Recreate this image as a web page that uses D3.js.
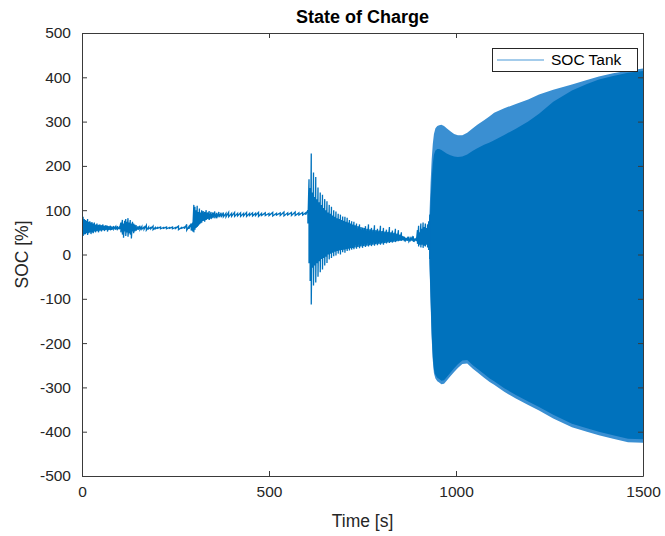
<!DOCTYPE html>
<html>
<head>
<meta charset="utf-8">
<script src="https://cdn.jsdelivr.net/npm/d3@7"></script>
<style>
  html, body { margin: 0; padding: 0; background: #fff; }
  svg { display: block; font-family: "Liberation Sans", Arial, Helvetica, sans-serif; }
</style>
</head>
<body>
<svg id="chart" width="665" height="536"></svg>
<script>
// ---------------- data ----------------
const title = "State of Charge";
const xLabel = "Time [s]";
const yLabel = "SOC [%]";
const seriesName = "SOC Tank";
const xTicks = [0, 500, 1000, 1500];
const yTicks = [-500, -400, -300, -200, -100, 0, 100, 200, 300, 400, 500];

// oscillation extremes (per cycle) for 0 - 930 s
const cycT = [0,3,6,9,12,15,18,21,24,27,30,33,36,40,44,48,52,56,60,64,68,72,76,80,85,90,95,100,
  104,108,111,114,117,120,123,126,129,132,135,138,141,145,150,155,
  160,166,172,178,184,190,196,202,210,218,226,234,242,250,258,266,274,280,286,292,
  296,299,302,305,308,311,314,317,320,324,328,332,336,340,345,350,355,360,366,372,378,385,392,
  400,408,416,424,432,440,448,456,464,472,480,490,500,510,520,530,540,550,560,570,580,590,598,
  604,607,610,613,616,619,622,625,628,631,634,637,640,643,646,649,652,655,658,661,664,667,670,673,
  676,679,682,685,688,691,694,697,700,703,706,709,712,715,718,721,724,727,730,734,738,742,746,750,
  754,758,762,766,770,774,778,782,786,790,794,798,802,806,810,814,818,822,826,830,834,838,842,846,
  850,854,858,862,866,870,874,878,882,886,890,894,897,900,903,906,909,912,915,918,921,924,927,930];
const cycHi = [100,85,80,78,76,80,74,75,72,73,70,72,68,70,67,68,66,68,65,66,65,64,65,63,64,63,64,62,
  72,78,70,76,80,74,82,72,78,70,74,70,68,66,64,65,
  63,62,66,62,61,64,61,61,62,61,62,61,62,61,64,61,62,68,63,70,
  72,112,108,100,110,96,104,95,100,98,96,100,95,98,96,95,97,94,96,94,95,93,95,
  93,95,93,94,93,95,93,94,93,95,93,94,93,95,93,94,96,94,95,96,94,95,94,
  100,170,150,228,140,185,130,175,125,151,118,140,112,135,105,125,100,120,95,112,92,108,88,100,
  85,97,82,92,80,90,78,86,76,85,74,83,72,78,70,75,68,74,66,70,64,68,62,61,
  60,64,58,68,57,60,56,66,55,58,54,65,53,60,52,56,51,62,50,54,49,58,47,55,
  45,50,42,40,38,37,40,36,38,41,36,37,55,65,50,70,58,72,62,70,60,68,75,90];
const cycLo = [40,42,45,46,48,44,48,50,46,50,48,52,50,53,50,54,52,55,53,56,52,56,55,56,57,56,57,57,
  50,45,38,52,42,50,40,48,45,36,52,48,52,54,56,56,
  57,57,55,58,58,56,58,59,58,59,58,59,58,59,56,59,58,55,58,54,
  52,50,56,60,62,65,68,70,72,76,74,78,80,78,80,82,82,82,84,84,85,85,85,
  86,86,87,86,87,86,88,87,88,86,88,88,88,87,89,88,87,89,88,88,89,89,90,
  70,-20,-60,-113,-30,-70,-25,-63,-20,-50,-15,-40,-10,-34,-8,-25,-5,-19,0,-11,2,-8,4,-4,
  6,-2,8,2,9,0,10,5,11,4,12,8,13,9,14,11,15,12,16,13,17,14,18,15,
  19,17,20,18,21,19,22,20,23,21,24,22,25,22,26,25,27,26,28,27,29,28,30,30,
  31,31,32,30,32,31,30,32,31,29,32,30,24,18,22,16,22,15,20,18,22,16,10,-10];

// dense oscillation 930 - 1500 s : outer extremes and solid core envelope
const denseT  = [929,932,935,938,941,945,950,955,961,968,975,985,995,1005,1017,1030,1045,1057,1075,1090,1102,1129,1160,1193,1222,1260,1310,1350,1382,1420,1460,1500];
const denseHi = [90,160,215,250,272,285,290,292,293,290,285,278,272,269,269,275,285,293,303,312,320,330,340,350,361,372,384,394,402,409,415,420];
const denseLo = [-20,-110,-190,-240,-268,-280,-286,-289,-293,-292,-285,-275,-265,-256,-247,-246,-258,-266,-278,-288,-294,-310,-325,-340,-352,-370,-390,-400,-408,-416,-424,-425];
const coreHi  = [60,120,170,205,225,235,238,238,236,232,228,224,221,220,221,226,234,240,248,253,258,270,284,300,318,345,370,385,395,403,410,414];
const coreLo  = [-15,-100,-180,-232,-260,-272,-278,-281,-285,-284,-277,-267,-257,-248,-239,-238,-250,-258,-270,-280,-286,-302,-317,-332,-344,-362,-382,-392,-400,-408,-416,-417];

// ---------------- drawing ----------------
const W = 665, H = 536;
const L = 82, R = 643, T = 33, B = 476;
const blue = "#0072BD", axisCol = "#3a3a3a", textCol = "#262626";

const svg = d3.select("#chart");
const x = d3.scaleLinear().domain([0, 1500]).range([L, R]);
const y = d3.scaleLinear().domain([-500, 500]).range([B, T]);
const fmt = d => String(d);

svg.append("rect").attr("x", 0).attr("y", 0).attr("width", W).attr("height", H).attr("fill", "#fff");

svg.append("clipPath").attr("id", "clip")
  .append("rect").attr("x", L).attr("y", T).attr("width", R - L).attr("height", B - T);

const plot = svg.append("g").attr("clip-path", "url(#clip)");

// dense band
const dense = denseT.map((t, i) => ({t, hi: denseHi[i], lo: denseLo[i], chi: coreHi[i], clo: coreLo[i]}));
plot.append("path").datum(dense)
  .attr("d", d3.area().x(d => x(d.t)).y0(d => y(d.lo)).y1(d => y(d.hi)))
  .attr("fill", "#3a8fd2");
plot.append("path").datum(dense)
  .attr("d", d3.area().x(d => x(d.t)).y0(d => y(d.clo)).y1(d => y(d.chi)))
  .attr("fill", blue);

// oscillating line
const pts = [];
cycT.forEach((t, i) => { pts.push([t, cycHi[i]]); pts.push([t, cycLo[i]]); });
plot.append("path").datum(pts)
  .attr("d", d3.line().x(d => x(d[0])).y(d => y(d[1])))
  .attr("fill", "none").attr("stroke", blue).attr("stroke-width", 1.3);

// axes
const fontTick = "15.5px";
const xAxisB = svg.append("g").attr("transform", `translate(0,${B})`)
  .call(d3.axisBottom(x).tickValues(xTicks).tickFormat(fmt).tickSizeInner(-5).tickSizeOuter(0).tickPadding(10));
const xAxisT = svg.append("g").attr("transform", `translate(0,${T})`)
  .call(d3.axisTop(x).tickValues(xTicks).tickSizeInner(-5).tickSizeOuter(0).tickFormat(""));
const yAxisL = svg.append("g").attr("transform", `translate(${L},0)`)
  .call(d3.axisLeft(y).tickValues(yTicks).tickFormat(fmt).tickSizeInner(-5).tickSizeOuter(0).tickPadding(11));
const yAxisR = svg.append("g").attr("transform", `translate(${R},0)`)
  .call(d3.axisRight(y).tickValues(yTicks).tickSizeInner(-5).tickSizeOuter(0).tickFormat(""));

[xAxisB, xAxisT, yAxisL, yAxisR].forEach(g => {
  g.selectAll(".domain").attr("stroke", axisCol).attr("stroke-width", 1);
  g.selectAll(".tick line").attr("stroke", axisCol).attr("stroke-width", 1);
  g.selectAll(".tick text").attr("fill", textCol).style("font-size", fontTick)
    .style("font-family", '"Liberation Sans", Arial, sans-serif');
});

// titles
svg.append("text").attr("x", (L + R) / 2).attr("y", 23).attr("text-anchor", "middle")
  .attr("fill", "#000").style("font-size", "18px").style("font-weight", "bold").text(title);
svg.append("text").attr("x", (L + R) / 2).attr("y", 527).attr("text-anchor", "middle")
  .attr("fill", textCol).style("font-size", "17.5px").text(xLabel);
svg.append("text").attr("transform", `translate(28,${(T + B) / 2}) rotate(-90)`)
  .attr("text-anchor", "middle").attr("fill", textCol).style("font-size", "17.5px").text(yLabel);

// legend
const lg = svg.append("g");
lg.append("rect").attr("x", 492.5).attr("y", 48.5).attr("width", 145).attr("height", 23)
  .attr("fill", "#fff").attr("stroke", "#262626").attr("stroke-width", 1);
lg.append("line").attr("x1", 497).attr("x2", 544).attr("y1", 60).attr("y2", 60)
  .attr("stroke", "#4a9ad8").attr("stroke-width", 1.2);
lg.append("text").attr("x", 551).attr("y", 60).attr("dy", "0.35em")
  .attr("fill", "#000").style("font-size", fontTick).text(seriesName);
</script>
</body>
</html>
